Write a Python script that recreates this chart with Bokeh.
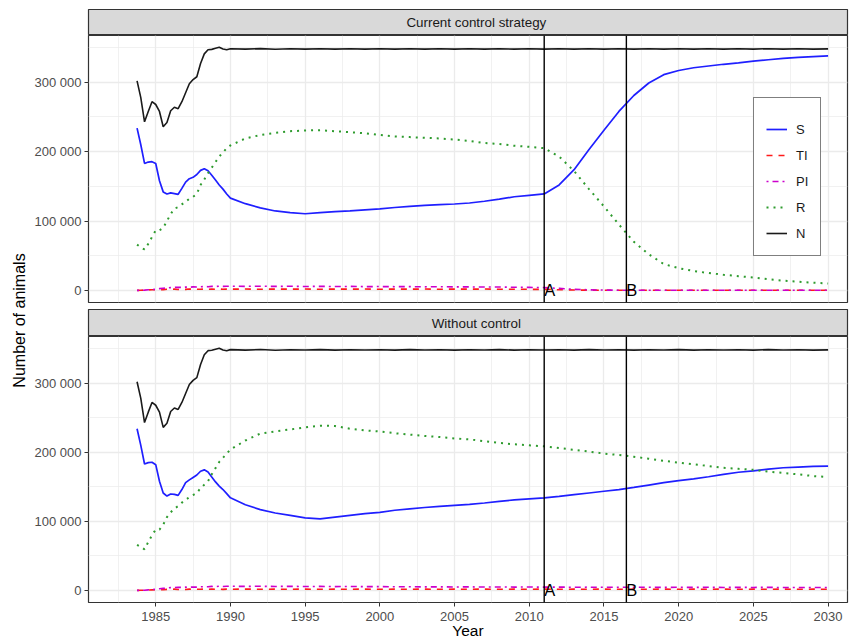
import math
from bokeh.plotting import figure
from bokeh.layouts import row, column
from bokeh.models import Range1d, FixedTicker, Label, Span, Legend, LegendItem, Grid, ColumnDataSource
from bokeh.embed import file_html
from bokeh.resources import INLINE
from bokeh.core.properties import value

# ---------------- data ----------------
years_early = [1983.75, 1984.0, 1984.25, 1984.5, 1984.75, 1985.0, 1985.25, 1985.5, 1985.75,
               1986.0, 1986.25, 1986.5, 1986.75, 1987.0, 1987.25, 1987.5, 1987.75,
               1988.0, 1988.25, 1988.5, 1988.75, 1989.0, 1989.25, 1989.5, 1989.75]
years_late = [1990, 1991, 1992, 1993, 1994, 1995, 1996, 1997, 1998, 1999,
              2000, 2001, 2002, 2003, 2004, 2005, 2006, 2007, 2008, 2009,
              2010, 2011, 2012, 2013, 2014, 2015, 2016, 2017, 2018, 2019,
              2020, 2021, 2022, 2023, 2024, 2025, 2026, 2027, 2028, 2029, 2030]
years = years_early + years_late

# Current control strategy
s_ctrl = [234000, 210000, 183000, 185000, 185500, 183000, 158000, 142000, 139000,
          140500, 139500, 138500, 147000, 156000, 161000, 163000, 167000,
          173000, 175500, 172500, 166000, 159000, 152000, 146000, 139000,
          133000, 125000, 119000, 114500, 112000, 110500, 112000, 113500, 114500, 116000,
          117500, 119500, 121000, 122500, 123500, 124500, 126000, 128500, 131500, 135000,
          137000, 139000, 152000, 174000, 203000, 231000, 258000, 281000, 299000, 311000,
          317000, 321000, 323500, 326000, 328000, 330500, 332500, 334500, 336000, 337000,
          338000]
ti_ctrl = [0, 200, 400, 600, 800, 1000, 1200, 1000, 1500,
           1200, 1800, 1300, 1600, 1400, 1900, 1500, 1700,
           1600, 2000, 1500, 1800, 1600, 2000, 1500, 1800,
           1700, 1900, 1600, 1800, 1700, 1900, 1600, 1800, 1700, 1900,
           1600, 1800, 1700, 1900, 1600, 1800, 1700, 1900, 1600, 1700,
           1500, 1400, 900, 500, 300, 200, 100, 100, 100, 100,
           100, 100, 100, 100, 100, 100, 100, 100, 100, 100,
           100]
pi_ctrl = [0, 0, 300, 800, 1200, 1500, 2500, 3000, 3500,
           4000, 4200, 4500, 4300, 4700, 4500, 5000, 4800,
           5200, 5500, 5300, 5800, 5600, 6000, 5700, 6000,
           6000, 5800, 6000, 5700, 5900, 5600, 5800, 5500, 5700, 5400,
           5500, 5300, 5400, 5100, 5200, 5000, 5000, 4800, 4800, 4500,
           4300, 4000, 2800, 1500, 800, 400, 200, 100, 100, 100,
           100, 100, 100, 100, 100, 100, 100, 100, 100, 100,
           100]
r_ctrl = [66000, 62000, 59000, 67000, 77000, 86500, 86500, 90000, 100000,
          110000, 118000, 120000, 124000, 128000, 132000, 135000, 139000,
          152000, 160000, 169000, 177000, 185000, 193000, 199000, 205000,
          209000, 219000, 224000, 227000, 229500, 230500, 231000, 229500, 228000, 226500,
          224000, 222000, 221000, 220000, 219000, 217500, 215500, 212500, 211000, 208500,
          207000, 205000, 193000, 172000, 146000, 121000, 95000, 70000, 52000, 38000,
          32000, 28000, 25000, 22500, 20500, 18500, 16000, 14000, 12500, 11000,
          10000]
n_all = [302000, 278000, 243000, 258000, 272000, 268000, 258000, 236000, 242000,
         259000, 264000, 262000, 272000, 285000, 298000, 304000, 308000,
         327000, 341000, 347000, 347500, 349000, 350500, 348000, 347000,
         348500, 347800, 348600, 347700, 348400, 347900, 348500, 347800, 348300, 347900,
         348400, 347800, 348500, 347900, 348300, 347800, 348400, 347900, 348500, 347800,
         348300, 347900, 348400, 347800, 348500, 347900, 348300, 347800, 348400, 347900,
         348500, 347800, 348300, 347900, 348400, 347800, 348500, 347900, 348300, 347800,
         348200]

# Without control
s_none = [234000, 210000, 183000, 185000, 185500, 182000, 158000, 141000, 136500,
          139500, 139000, 137500, 146000, 156000, 160000, 163500, 167000,
          172500, 174500, 171500, 164000, 157000, 151000, 146000, 140000,
          134000, 124000, 117000, 112000, 108500, 105000, 103500, 106000, 108500, 111000,
          113000, 116000, 118000, 120000, 121500, 123000, 124500, 126500, 129000, 131000,
          132500, 134000, 136000, 138500, 141000, 143500, 146000, 149000, 152500, 156000,
          159000, 161500, 164500, 168000, 171000, 173000, 175500, 177500, 178500, 179500,
          180000]
ti_none = [0, 200, 400, 600, 800, 1000, 1200, 1000, 1500,
           1200, 1800, 1300, 1600, 1400, 1900, 1500, 1700,
           1600, 2000, 1500, 1800, 1600, 2000, 1500, 1800,
           1700, 1900, 1600, 1800, 1700, 1900, 1600, 1800, 1700, 1900,
           1600, 1800, 1700, 1900, 1600, 1800, 1700, 1900, 1600, 1800,
           1700, 1900, 1600, 1800, 1700, 1900, 1600, 1800, 1700, 1900,
           1600, 1800, 1700, 1900, 1600, 1800, 1700, 1900, 1600, 1800,
           1700]
pi_none = [0, 0, 300, 800, 1200, 1500, 2500, 3000, 3500,
           4000, 4200, 4500, 4300, 4700, 4500, 5000, 4800,
           5200, 5500, 5300, 5800, 5600, 6000, 5700, 6000,
           6000, 5800, 6000, 5700, 5900, 5600, 5800, 5500, 5700, 5400,
           5500, 5300, 5400, 5100, 5200, 5000, 5100, 4900, 5000, 4800,
           4900, 4700, 4800, 4600, 4700, 4500, 4600, 4500, 4600, 4400,
           4500, 4400, 4500, 4300, 4400, 4300, 4400, 4200, 4300, 4200,
           4300]
r_none = [66000, 63000, 59500, 70000, 80000, 88000, 88000, 95000, 106000,
          113000, 118500, 122000, 127000, 131000, 135000, 138000, 141000,
          148000, 153000, 158000, 168000, 177000, 186000, 192000, 198000,
          204000, 217000, 227000, 230000, 233000, 236000, 238500, 238000, 234000, 231500,
          230000, 227500, 225500, 223500, 222000, 220000, 218500, 216000, 213500, 211500,
          210000, 208500, 206000, 203500, 201000, 198000, 196000, 193500, 190500, 187500,
          185000, 182500, 180000, 177500, 176000, 174500, 172000, 170000, 168000, 165500,
          164000]

panel_titles = ["Current control strategy", "Without control"]
series_names = ["S", "TI", "PI", "R", "N"]
panel_series = [
    {"S": s_ctrl, "TI": ti_ctrl, "PI": pi_ctrl, "R": r_ctrl, "N": n_all},
    {"S": s_none, "TI": ti_none, "PI": pi_none, "R": r_none, "N": n_all},
]
marker_years = [2011, 2016.5]
marker_labels = ["A", "B"]
marker_label_y = [0, 0]

x_ticks = [1985, 1990, 1995, 2000, 2005, 2010, 2015, 2020, 2025, 2030]
x_minor_ticks = [1982.5, 1987.5, 1992.5, 1997.5, 2002.5, 2007.5, 2012.5, 2017.5, 2022.5, 2027.5]
y_ticks = [0, 100000, 200000, 300000]
y_tick_labels = ["0", "100 000", "200 000", "300 000"]
y_minor_ticks = [50000, 150000, 250000, 350000]

# ---------------- style ----------------
FONT = "Liberation Sans"
styles = {
    "S": dict(line_color="#1F1FFF", line_dash="solid", line_width=1.7),
    "TI": dict(line_color="#FF1A1A", line_dash="6 6", line_width=1.6),
    "PI": dict(line_color="#CC00CC", line_dash="2 4 6 4", line_width=1.6),
    "R": dict(line_color="#2E9B2E", line_dash="2 5", line_width=2.0),
    "N": dict(line_color="#1A1A1A", line_dash="solid", line_width=1.6),
}
X0, X1 = 1980.5, 2031.3
Y0, Y1 = -17500, 367500
PW = 821
LB, RB = 58, 4


def make_strip(title, height, top):
    s = figure(width=PW, height=height, x_range=Range1d(0, 1), y_range=Range1d(0, 1),
               toolbar_location=None, output_backend="svg", title_location=None,
               x_axis_location=None, y_axis_location=None,
               min_border_left=LB, min_border_right=RB, min_border_top=top, min_border_bottom=0)
    s.center = [r for r in s.center if not isinstance(r, Grid)]
    s.background_fill_color = "#D9D9D9"
    s.border_fill_color = "white"
    s.outline_line_color = "#333333"
    s.outline_line_width = 1.2
    s.add_layout(Label(x=0.511, y=0.5, text=title, text_align="center", text_baseline="middle",
                       text_font=FONT, text_font_size="13.4px", text_color="#1A1A1A"))
    return s


def make_panel(idx, height, show_x, bottom):
    p = figure(width=PW, height=height, x_range=Range1d(X0, X1), y_range=Range1d(Y0, Y1),
               toolbar_location=None, output_backend="svg", title_location=None,
               x_axis_location="below" if show_x else None,
               min_border_left=LB, min_border_right=RB, min_border_top=0, min_border_bottom=bottom)
    p.center = [r for r in p.center if not isinstance(r, Grid)]
    p.background_fill_color = "white"
    p.border_fill_color = "white"
    p.outline_line_color = "#333333"
    p.outline_line_width = 1.2
    p.add_layout(Grid(dimension=0, ticker=FixedTicker(ticks=x_ticks, minor_ticks=x_minor_ticks),
                      grid_line_color="#EBEBEB", grid_line_width=1.3,
                      minor_grid_line_color="#EBEBEB", minor_grid_line_width=0.7))
    p.add_layout(Grid(dimension=1, ticker=FixedTicker(ticks=y_ticks, minor_ticks=y_minor_ticks),
                      grid_line_color="#EBEBEB", grid_line_width=1.3,
                      minor_grid_line_color="#EBEBEB", minor_grid_line_width=0.7))

    ax = p.yaxis[0]
    ax.ticker = FixedTicker(ticks=y_ticks)
    ax.major_label_overrides = {t: lab for t, lab in zip(y_ticks, y_tick_labels)}
    ax.axis_line_color = None
    ax.major_tick_line_color = "#333333"
    ax.major_tick_out = 4
    ax.major_tick_in = 0
    ax.minor_tick_line_color = None
    ax.major_label_text_font = FONT
    ax.major_label_text_font_size = "13px"
    ax.major_label_text_color = "#4D4D4D"
    ax.major_label_standoff = 3

    if show_x:
        xa = p.xaxis[0]
        xa.ticker = FixedTicker(ticks=x_ticks)
        xa.axis_line_color = None
        xa.major_tick_line_color = "#333333"
        xa.major_tick_out = 4
        xa.major_tick_in = 0
        xa.minor_tick_line_color = None
        xa.major_label_text_font = FONT
        xa.major_label_text_font_size = "13px"
        xa.major_label_text_color = "#4D4D4D"
        xa.major_label_standoff = 5
        xa.axis_label = "Year"
        xa.axis_label_text_font = FONT
        xa.axis_label_text_font_size = "15.5px"
        xa.axis_label_text_font_style = "normal"
        xa.axis_label_text_color = "black"
        xa.axis_label_standoff = -2

    data = panel_series[idx]
    src = ColumnDataSource(dict(year=years, **data))
    renderers = {}
    for name in series_names:
        renderers[name] = p.line("year", name, source=src, **styles[name])

    for xv in marker_years:
        p.add_layout(Span(location=xv, dimension="height", line_color="black", line_width=1.4))
    p.text(x=marker_years, y=marker_label_y, text=marker_labels, text_font=value(FONT),
           text_font_size="16.5px", text_align="left", text_baseline="middle", text_color="black")
    return p, renderers


strip1 = make_strip(panel_titles[0], 35, 9)
panel1, rend1 = make_panel(0, 274, False, 7)
strip2 = make_strip(panel_titles[1], 27, 0)
panel2, rend2 = make_panel(1, 305, True, 0)

legend = Legend(items=[LegendItem(label=n, renderers=[rend1[n]]) for n in series_names],
                location=(665, 46), margin=0, padding=12, spacing=6,
                label_height=20, label_width=12, glyph_height=20, glyph_width=21, label_standoff=9,
                label_text_font=FONT, label_text_font_size="13px", label_text_color="#1A1A1A",
                border_line_color="black", border_line_width=1.5,
                background_fill_color="white", background_fill_alpha=1.0,
                title=" ", title_text_font_size="8px", title_standoff=0)
panel1.add_layout(legend)

lab = figure(width=30, height=641, x_range=Range1d(0, 30), y_range=Range1d(0, 641),
             toolbar_location=None, output_backend="svg", title_location=None,
             x_axis_location=None, y_axis_location=None,
             min_border_left=0, min_border_right=0, min_border_top=0, min_border_bottom=0)
lab.center = [r for r in lab.center if not isinstance(r, Grid)]
lab.outline_line_color = None
lab.add_layout(Label(x=19, y=321, text="Number of animals", angle=math.pi / 2,
                     text_align="center", text_baseline="middle",
                     text_font=FONT, text_font_size="16px", text_color="black"))

layout = row(lab, column(strip1, panel1, strip2, panel2, spacing=0), spacing=0)

open("out.html", "w").write(file_html(layout, INLINE))
